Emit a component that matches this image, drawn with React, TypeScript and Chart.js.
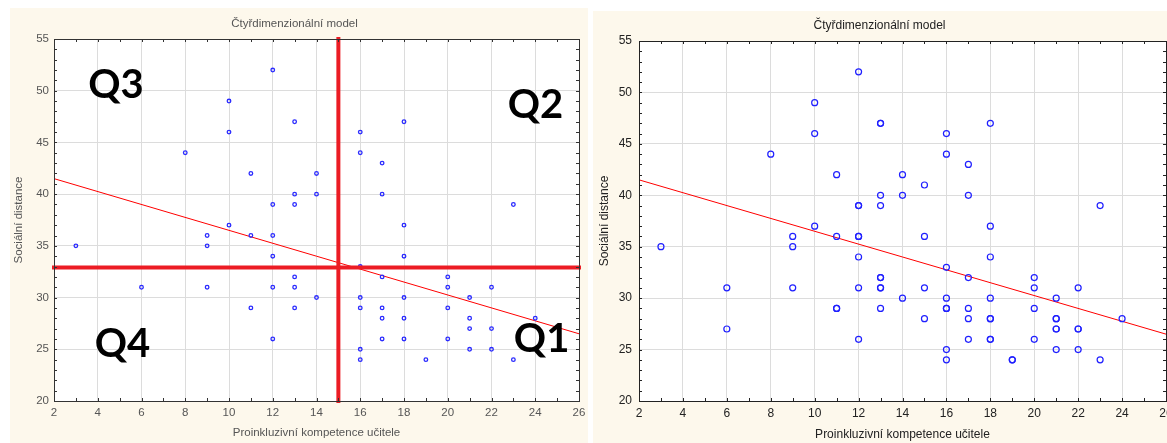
import React, { useEffect, useRef } from "react";
import { Chart, registerables } from "chart.js";

Chart.register(...registerables);

// ---------- texts ----------
const TITLE = "Čtyřdimenzionální model";
const X_TITLE = "Proinkluzivní kompetence učitele";
const Y_TITLE = "Sociální distance";

// ---------- tick labels ----------
const X_TICKS = [2, 4, 6, 8, 10, 12, 14, 16, 18, 20, 22, 24, 26];
const Y_TICKS = [20, 25, 30, 35, 40, 45, 50, 55];

// ---------- right panel data (Proinkluzivní kompetence, Sociální distance) ----------
const rightX = [
  3, 6, 6, 8, 9, 9, 9, 10, 10, 10, 11, 11, 11, 11,
  12, 12, 12, 12, 12, 12, 12, 12,
  13, 13, 13, 13, 13, 13, 13, 13, 13,
  14, 14, 14, 15, 15, 15, 15,
  16, 16, 16, 16, 16, 16, 16, 16,
  17, 17, 17, 17, 17, 17,
  18, 18, 18, 18, 18, 18, 18, 18,
  19, 19, 20, 20, 20, 20,
  21, 21, 21, 21, 21, 21,
  22, 22, 22, 22, 23, 23, 24,
];
const rightY = [
  35, 31, 27, 44, 36, 35, 31, 49, 46, 37, 42, 36, 29, 29,
  52, 39, 39, 36, 36, 34, 31, 26,
  47, 47, 40, 39, 32, 32, 31, 31, 29,
  42, 40, 30, 41, 36, 31, 28,
  46, 44, 33, 30, 29, 29, 25, 24,
  43, 40, 32, 29, 28, 26,
  47, 37, 34, 30, 28, 28, 26, 26,
  24, 24, 32, 31, 29, 26,
  30, 28, 28, 27, 27, 25,
  31, 27, 27, 25, 39, 24, 28,
];

// ---------- left panel data ----------
const leftX = [
  3, 6, 8, 9, 9, 9, 10, 10, 10, 11, 11, 11,
  12, 12, 12, 12, 12, 12,
  13, 13, 13, 13, 13, 13,
  14, 14, 14,
  16, 16, 16, 16, 16, 16, 16,
  17, 17, 17, 17, 17, 17,
  18, 18, 18, 18, 18, 18,
  19, 20, 20, 20, 20,
  21, 21, 21, 21, 22, 22, 22, 23, 23, 24,
];
const leftY = [
  35, 31, 44, 36, 35, 31, 49, 46, 37, 42, 36, 29,
  52, 39, 36, 34, 31, 26,
  47, 40, 39, 32, 31, 29,
  42, 40, 30,
  46, 44, 33, 30, 29, 25, 24,
  43, 40, 32, 29, 28, 26,
  47, 37, 34, 30, 28, 26,
  24, 32, 31, 29, 26,
  30, 28, 27, 25, 31, 27, 25, 39, 24, 28,
];

// ---------- regression line ----------
const fitX = [2, 26];
const fitY = [41.5, 26.5];

// ---------- quadrant dividers (left panel) ----------
const QUAD_X = 15;
const QUAD_Y = 32.9;
const QUAD_TEXT = ["Q1", "Q2", "Q3", "Q4"];
const QUAD_AT_X = [24.29, 24.01, 4.83, 5.13];
const QUAD_AT_Y = [24.71, 47.36, 49.3, 24.28];

const FONT = "'Liberation Sans', Arial, sans-serif";
const BEIGE = "#fdf8ec";

const pts = (xs: number[], ys: number[]) => xs.map((x, i) => ({ x, y: ys[i] }));

type PanelOpts = {
  left: boolean;
  width: number;
  height: number;
  padRight: number;
  yAxisWidth: number;
  xAxisHeight: number;
  titleSize: number;
  titlePad: { top: number; bottom: number };
  textColor: string;
  tickColor: string;
  yTickPad: number;
  yTitlePad: number;
  xTitlePad: number;
};

function framePlugin(o: PanelOpts) {
  return {
    id: "frame",
    beforeDraw(chart: any) {
      const { ctx, chartArea: a } = chart;
      ctx.save();
      ctx.fillStyle = "#ffffff";
      ctx.fillRect(a.left, a.top, a.right - a.left, a.bottom - a.top);
      ctx.restore();
    },
    afterDraw(chart: any) {
      const { ctx, chartArea: a } = chart;
      const xs = chart.scales.x;
      const ys = chart.scales.y;
      ctx.save();
      ctx.strokeStyle = o.left ? "#333" : "#222";
      ctx.lineWidth = 1;
      const L = 3;
      ctx.beginPath();
      for (let v = xs.min; v <= xs.max; v += 1) {
        const p = Math.round(xs.getPixelForValue(v)) + 0.5;
        ctx.moveTo(p, a.bottom);
        ctx.lineTo(p, a.bottom - L);
        ctx.moveTo(p, a.top);
        ctx.lineTo(p, a.top + L);
      }
      for (let v = ys.min; v <= ys.max; v += 1) {
        const p = Math.round(ys.getPixelForValue(v)) + 0.5;
        ctx.moveTo(a.left, p);
        ctx.lineTo(a.left + L, p);
        ctx.moveTo(a.right, p);
        ctx.lineTo(a.right - L, p);
      }
      ctx.stroke();
      ctx.strokeRect(
        Math.round(a.left) + 0.5,
        Math.round(a.top) + 0.5,
        Math.round(a.right - a.left),
        Math.round(a.bottom - a.top)
      );
      if (o.left) {
        ctx.fillStyle = "#000";
        ctx.font = "bold 40px Lato, 'Open Sans', sans-serif";
        ctx.textAlign = "center";
        ctx.textBaseline = "alphabetic";
        QUAD_TEXT.forEach((t, i) => {
          ctx.fillText(t, xs.getPixelForValue(QUAD_AT_X[i]), ys.getPixelForValue(QUAD_AT_Y[i]));
        });
      }
      ctx.restore();
    },
  };
}

function makeConfig(o: PanelOpts): any {
  const datasets: any[] = [];
  if (o.left) {
    datasets.push({
      label: "vertical",
      data: [
        { x: QUAD_X, y: Y_TICKS[0] },
        { x: QUAD_X, y: Y_TICKS[Y_TICKS.length - 1] },
      ],
      showLine: true,
      borderColor: "#ec1c24",
      borderWidth: 4,
      borderCapStyle: "square",
      pointRadius: 0,
      clip: false,
      order: 0,
    });
    datasets.push({
      label: "horizontal",
      data: [
        { x: X_TICKS[0], y: QUAD_Y },
        { x: X_TICKS[X_TICKS.length - 1], y: QUAD_Y },
      ],
      showLine: true,
      borderColor: "#ec1c24",
      borderWidth: 4,
      borderCapStyle: "square",
      pointRadius: 0,
      clip: false,
      order: 0,
    });
  }
  datasets.push({
    label: "points",
    data: o.left ? pts(leftX, leftY) : pts(rightX, rightY),
    showLine: false,
    pointStyle: "circle",
    pointRadius: o.left ? 1.8 : 3,
    borderWidth: o.left ? 1.3 : 1.2,
    borderColor: o.left ? "#2a2aff" : "#1f1fff",
    backgroundColor: "rgba(0,0,0,0)",
    order: 1,
  });
  datasets.push({
    label: "fit",
    data: pts(fitX, fitY),
    showLine: true,
    borderColor: "#ff0000",
    borderWidth: 1,
    pointRadius: 0,
    order: 2,
  });

  const tickFont = { family: FONT, size: o.left ? 11.5 : 12 };
  return {
    type: "scatter",
    data: { datasets },
    options: {
      animation: false,
      responsive: false,
      devicePixelRatio: 1,
      events: [],
      layout: { autoPadding: false, padding: { left: 0, right: o.padRight, top: 0, bottom: 0 } },
      plugins: {
        legend: { display: false },
        tooltip: { enabled: false },
        title: {
          display: true,
          text: TITLE,
          color: o.textColor,
          font: { family: FONT, size: o.titleSize, weight: "normal", lineHeight: 1.2 },
          padding: o.titlePad,
        },
      },
      scales: {
        x: {
          type: "linear",
          min: X_TICKS[0],
          max: X_TICKS[X_TICKS.length - 1],
          afterBuildTicks: (s: any) => {
            s.ticks = X_TICKS.map((v) => ({ value: v }));
          },
          afterFit: (s: any) => {
            s.height = o.xAxisHeight;
            s.paddingLeft = 0;
            s.paddingRight = 0;
          },
          grid: { color: "#dcdcdc", lineWidth: 1, drawTicks: false },
          border: { display: false },
          ticks: {
            color: o.tickColor,
            font: tickFont,
            padding: 5,
            autoSkip: false,
            maxRotation: 0,
          },
          title: {
            display: true,
            text: X_TITLE,
            color: o.textColor,
            font: { family: FONT, size: o.titleSize, lineHeight: 1.2 },
            padding: { top: 0, bottom: o.xTitlePad },
          },
        },
        y: {
          type: "linear",
          min: Y_TICKS[0],
          max: Y_TICKS[Y_TICKS.length - 1],
          afterBuildTicks: (s: any) => {
            s.ticks = Y_TICKS.map((v) => ({ value: v }));
          },
          afterFit: (s: any) => {
            s.width = o.yAxisWidth;
            s.paddingTop = 0;
            s.paddingBottom = 0;
          },
          grid: { color: "#dcdcdc", lineWidth: 1, drawTicks: false },
          border: { display: false },
          ticks: {
            color: o.tickColor,
            font: tickFont,
            padding: o.yTickPad,
            autoSkip: false,
          },
          title: {
            display: true,
            text: Y_TITLE,
            color: o.textColor,
            font: { family: FONT, size: o.titleSize, lineHeight: 1.2 },
            padding: { top: o.yTitlePad, bottom: 0 },
          },
        },
      },
    },
    plugins: [framePlugin(o)],
  };
}

const LEFT_OPTS: PanelOpts = {
  left: true,
  width: 578,
  height: 435,
  padRight: 9,
  yAxisWidth: 44,
  xAxisHeight: 42,
  titleSize: 11.5,
  titlePad: { top: 8.6, bottom: 8.6 },
  textColor: "#555",
  tickColor: "#555",
  yTickPad: 5,
  yTitlePad: 2,
  xTitlePad: 3.6,
};

const RIGHT_OPTS: PanelOpts = {
  left: false,
  width: 578,
  height: 432,
  padRight: 5,
  yAxisWidth: 46,
  xAxisHeight: 42,
  titleSize: 12,
  titlePad: { top: 7, bottom: 8.6 },
  textColor: "#222",
  tickColor: "#222",
  yTickPad: 7,
  yTitlePad: 4,
  xTitlePad: 1,
};

function Panel({ x, y, opts }: { x: number; y: number; opts: PanelOpts }) {
  const ref = useRef<HTMLCanvasElement>(null);
  useEffect(() => {
    if (!ref.current) return;
    const chart = new Chart(ref.current, makeConfig(opts));
    return () => chart.destroy();
  }, []);
  return (
    <div
      style={{
        position: "absolute",
        left: x,
        top: y,
        width: opts.width,
        height: opts.height,
        background: BEIGE,
      }}
    >
      <canvas
        ref={ref}
        width={opts.width}
        height={opts.height}
        style={{ display: "block", width: opts.width, height: opts.height }}
      />
    </div>
  );
}

export default function App() {
  return (
    <div
      style={{
        position: "fixed",
        left: 0,
        top: 0,
        width: 1167,
        height: 443,
        overflow: "hidden",
        background: "#ffffff",
      }}
    >
      <Panel x={10} y={8} opts={LEFT_OPTS} />
      <Panel x={593} y={11} opts={RIGHT_OPTS} />
    </div>
  );
}
